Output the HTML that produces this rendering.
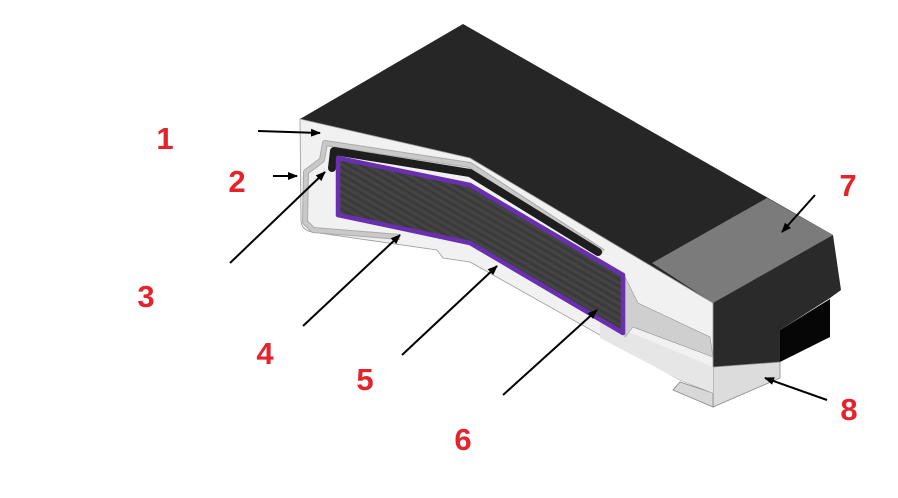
<!DOCTYPE html>
<html><head><meta charset="utf-8"><style>
html,body{margin:0;padding:0;background:#fff;width:898px;height:498px;overflow:hidden}
svg{display:block}
text{font-family:"Liberation Sans",sans-serif;font-weight:bold;font-size:31px;fill:#e5232a;text-anchor:middle}
</style></head><body>
<svg width="898" height="498" viewBox="0 0 898 498" xmlns="http://www.w3.org/2000/svg">
<defs>
<marker id="ah" markerWidth="10" markerHeight="10" refX="9" refY="5" orient="auto" markerUnits="userSpaceOnUse">
<path d="M0,1 L10,5 L0,9 z" fill="#000"/></marker>
<pattern id="st" width="6" height="6" patternUnits="userSpaceOnUse" patternTransform="rotate(30)">
<rect width="6" height="6" fill="#3a3a3a"/><rect width="6" height="3" fill="#444"/></pattern>
</defs>
<!-- top face -->
<polygon points="300,119 463,24 833,235 713,303 470,158" fill="#262626"/>
<!-- gray cap top -->
<polygon points="652,263 767,198 833,235 713,303" fill="#7b7b7b"/>
<!-- cap front dark -->
<polygon points="713,303 833,235 841,290 830,298 780,330 780,362 713,367" fill="#2a2a2a"/>
<polygon points="780,330 830,299 830,337 780,362" fill="#060606"/>
<!-- white box 8 -->
<polygon points="713,367 780,362 780,378 713,407" fill="#dcdcdc" stroke="#888" stroke-width="0.8"/>
<polygon points="673,390 680,382 713,393 713,407" fill="#d8d8d8" stroke="#888" stroke-width="0.8"/>
<!-- front cross-section white -->
<path d="M300,119 L470,158 L713,303 L713,393 L680,380 L470,262 L443,258 L437,250 L312,232 Q301,230 301,220 Z" fill="#f1f1f1" stroke="#999" stroke-width="0.8"/>
<!-- lower band -->
<polygon points="600,320 713,367 713,393 680,380 600,338" fill="#e6e6e6"/>
<!-- electrode inner gray -->
<polygon points="625,277 633,293 638,303 710,337 713,357 633,327 625,337" fill="#cfcfcf" stroke="#999" stroke-width="0.6"/>
<!-- gray layer 2 -->
<path d="M603,252 L470,165 L325,143 L322,160 L306,172 L305,222 L313,230 L400,237" fill="none" stroke="#aaa" stroke-width="6" stroke-linejoin="round"/>
<path d="M603,252 L470,165 L325,143 L322,160 L306,172 L305,222 L313,230 L400,237" fill="none" stroke="#c9c9c9" stroke-width="4" stroke-linejoin="round"/>
<!-- dark layer 3 -->
<path d="M598,252 L470,173 L334,151 L332,168" fill="none" stroke="#1e1e1e" stroke-width="8" stroke-linejoin="round" stroke-linecap="round"/>
<!-- inner electrode with purple -->
<polygon points="338,158 470,185 623,275 623,333 470,243 338,215" fill="url(#st)" stroke="#6a2fb0" stroke-width="4.5" stroke-linejoin="round"/>
<!-- arrows -->
<g stroke="#000" stroke-width="2" marker-end="url(#ah)">
<line x1="258" y1="131" x2="320" y2="133"/>
<line x1="273" y1="176" x2="297" y2="176"/>
<line x1="230" y1="263" x2="325" y2="172"/>
<line x1="303" y1="326" x2="400" y2="235"/>
<line x1="402" y1="355" x2="497" y2="266"/>
<line x1="503" y1="395" x2="597" y2="310"/>
<line x1="815" y1="195" x2="782" y2="232"/>
<line x1="827" y1="400" x2="765" y2="378"/>
</g>
<text x="165" y="149">1</text>
<text x="237" y="192">2</text>
<text x="146" y="307">3</text>
<text x="265" y="364">4</text>
<text x="365" y="390">5</text>
<text x="463" y="450">6</text>
<text x="848" y="196">7</text>
<text x="849" y="420">8</text>
</svg>
</body></html>
